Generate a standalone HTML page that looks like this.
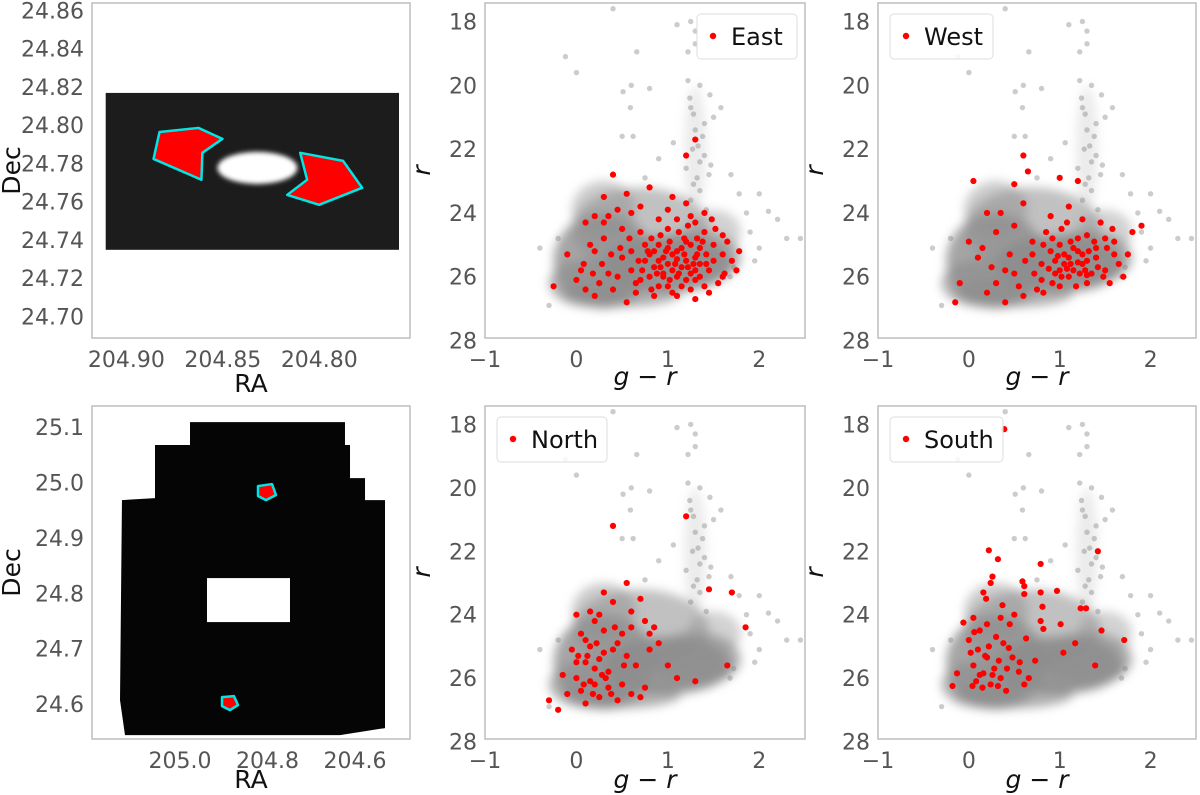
<!DOCTYPE html>
<html><head><meta charset="utf-8"><style>
body{margin:0;background:#fff;width:1200px;height:795px;overflow:hidden}
svg{display:block;font-family:"DejaVu Sans","Liberation Sans",sans-serif}
</style></head><body>
<svg id="fig" width="1200" height="795" viewBox="0 0 1200 795" xmlns="http://www.w3.org/2000/svg">
<defs><filter id="blur" x="-50%" y="-50%" width="200%" height="200%"><feGaussianBlur stdDeviation="5"/></filter>
<filter id="blur2" x="-50%" y="-50%" width="200%" height="200%"><feGaussianBlur stdDeviation="2.5"/></filter></defs>
</svg>
<script>
// ---------- data ----------
const tlField = [204.9107, 204.7587, 24.7348, 24.8168];
const tlHole = [204.8321, 24.7776, 0.0207, 0.0084];
const tlPolyEast = [[204.8828,24.7964],[204.8626,24.7985],[204.8502,24.7928],[204.8606,24.7855],[204.8611,24.7714],[204.8859,24.7823]];
const tlPolyWest = [[204.8099,24.7855],[204.7877,24.7813],[204.7778,24.7672],[204.8001,24.7583],[204.8166,24.7635],[204.8063,24.7714]];
const tlXTicks = [204.90, 204.85, 204.80];
const tlYTicks = [24.70,24.72,24.74,24.76,24.78,24.80,24.82,24.84,24.86];

const blFoot = [[204.9771,25.109],[204.6229,25.109],[204.6229,25.0675],[204.6114,25.0675],[204.6114,25.0079],[204.5771,25.0079],[204.5771,24.9682],[204.5314,24.9682],[204.5314,24.5567],[204.6343,24.544],[205.1257,24.544],[205.1371,24.6072],[205.1326,24.9682],[205.0571,24.9718],[205.0571,25.0675],[204.9771,25.0675]];
const blHole = [204.9383, 204.7486, 24.748, 24.8274];
const blPolyN = [[204.8217,24.9935],[204.7897,24.9971],[204.7806,24.9773],[204.8034,24.9682],[204.8217,24.9755]];
const blPolyS = [[204.904,24.6126],[204.8766,24.6144],[204.8674,24.5982],[204.8857,24.5892],[204.904,24.5964]];
const blXTicks = [205.0, 204.8, 204.6];
const blYTicks = [24.6,24.7,24.8,24.9,25.0,25.1];

const cmdXTicks = [-1,0,1,2];
const cmdYTicks = [18,20,22,24,26,28];
const cloudBlobs = [[0.3,25.5,0.55,1.5,0.8],[1.0,25.6,0.7,0.9,0.9],[0.7,24.5,0.75,1.3,0.55],[0.15,26.2,0.45,0.75,0.7],[1.3,22.0,0.12,2.0,0.18],[1.3,25.4,0.5,0.85,0.7],[0.5,26.5,0.65,0.45,0.7],[0.3,23.9,0.35,0.9,0.45],[1.5,24.6,0.3,0.7,0.4]];
const grayPts = [[0.4,17.6],[1.25,18.0],[1.3,18.3],[1.1,18.1],[1.3,18.7],[1.22,18.95],[0.66,18.95],[0.0,19.6],[-0.12,19.1],[1.22,19.85],[0.8,20.1],[0.6,20.0],[0.51,20.2],[0.59,20.7],[1.24,20.4],[1.46,20.3],[1.58,20.7],[1.28,20.9],[1.4,21.2],[1.5,21.0],[0.5,21.6],[0.62,21.6],[1.06,21.8],[1.27,22.0],[1.33,21.9],[1.35,22.4],[1.2,22.6],[1.45,22.8],[1.47,22.5],[1.69,22.8],[1.78,23.4],[2.0,23.4],[2.1,23.95],[1.86,24.0],[2.3,24.8],[-0.4,25.1],[2.0,25.1],[1.72,25.7],[1.68,26.0],[1.9,24.6],[2.2,24.2],[-0.3,26.9],[1.35,23.3],[1.25,23.6],[1.42,23.9],[0.9,22.3],[0.75,22.9],[-0.2,24.8],[2.45,24.8],[1.95,25.5],[1.3,21.4],[1.38,21.6],[1.32,22.9],[1.4,22.2],[1.28,23.1],[1.25,20.7],[1.35,20.0]];

const eastPts = [[0.4,22.8],[1.2,22.2],[1.3,21.7],[0.3,23.5],[0.2,24.1],[0.1,24.3],[-0.1,25.3],[-0.25,26.3],[0.05,25.8],[0.2,25.2],[0.3,24.8],[0.5,24.5],[0.6,25.8],[0.7,26.1],[0.8,25.3],[0.9,25.0],[1.0,25.6],[1.1,25.2],[1.2,24.9],[1.3,25.4],[1.4,24.6],[1.5,25.0],[1.6,25.3],[1.7,25.5],[1.1,26.0],[0.9,26.3],[1.3,26.1],[0.4,26.4],[0.2,26.6],[0.0,26.1],[1.0,24.5],[1.2,23.7],[0.8,23.2],[1.05,23.5],[0.6,24.0],[0.45,23.9],[0.9,24.2],[1.3,24.3],[1.45,25.8],[1.55,26.2],[0.75,25.0],[0.85,25.7],[0.95,25.9],[1.05,25.3],[1.15,25.7],[1.25,25.9],[1.35,25.1],[1.25,26.4],[1.1,26.6],[0.65,26.5],[0.5,25.4],[0.35,25.9],[0.15,25.0],[0.1,26.4],[0.3,24.3],[1.6,24.7],[1.75,25.8],[1.4,24.0],[0.7,24.6],[0.95,25.4],[1.2,25.5],[1.4,26.3],[1.0,26.3],[0.55,26.8],[1.3,26.7],[0.85,25.2],[1.05,25.8],[1.15,25.1],[0.95,26.0],[1.35,25.6],[1.25,25.0],[0.75,25.5],[0.9,25.5],[1.1,25.45],[1.2,26.1],[1.0,25.1],[1.3,25.8],[0.8,26.0],[1.5,25.5],[0.6,25.2],
[0.82,24.8],[0.92,24.7],[1.02,24.9],[1.12,24.6],[1.22,24.4],[1.32,24.8],[1.42,25.3],[1.52,24.5],[1.62,25.9],[0.72,25.8],[0.82,26.4],[0.92,25.7],[1.02,26.1],[1.12,25.9],[1.22,25.7],[1.32,25.3],[1.42,25.6],[1.48,24.2],[0.58,24.8],[0.48,25.1],[0.38,25.3],[0.28,25.6],[0.18,25.9],[0.08,25.6],[0.25,26.2],[0.45,26.0],[0.65,26.2],[0.85,26.6],[1.05,26.5],[1.15,26.3],[1.35,26.0],[1.45,26.5],[1.0,23.9],[1.1,24.2],[1.25,24.1],[0.7,23.8],[0.55,23.4],[0.35,24.1],[1.6,26.0],[1.65,24.9],[1.78,25.2],[0.98,25.2],[1.08,25.6],[1.18,25.3],[1.28,25.6],[0.88,25.9],[0.78,25.2],[0.68,25.5],[1.38,24.9],[1.18,24.8]];
const westPts = [[0.6,22.2],[1.0,22.9],[0.5,23.1],[0.2,24.0],[0.3,24.6],[0.0,24.9],[-0.1,26.2],[-0.15,26.8],[0.1,25.4],[0.2,26.5],[0.4,25.8],[0.5,24.4],[0.6,23.7],[0.7,24.9],[0.8,25.6],[0.9,25.2],[1.0,25.8],[1.1,25.4],[1.2,24.8],[1.3,25.5],[1.4,25.1],[1.5,24.8],[1.6,25.3],[1.7,26.0],[1.8,24.6],[1.9,24.4],[1.2,23.0],[1.1,23.8],[0.9,24.1],[1.0,26.3],[0.6,26.6],[0.4,26.8],[0.8,26.1],[1.3,26.2],[1.5,25.8],[1.25,25.6],[1.15,25.1],[1.05,25.6],[0.95,25.5],[1.35,25.9],[0.85,24.6],[0.75,26.4],[0.35,24.0],[0.15,25.1],[1.45,24.3],[1.55,26.2],[1.0,25.0],[1.2,25.2],[1.1,26.0],[0.7,25.3],[0.5,25.9],[0.3,26.2],[1.3,24.7],[1.6,24.9],[1.4,25.4],[0.05,23.0],[0.65,22.7],[1.05,25.3],[1.15,25.8],[0.95,25.9],[1.25,25.3],
[0.82,25.0],[0.92,24.8],[1.02,24.5],[1.12,24.9],[1.22,25.9],[1.32,25.2],[1.42,25.7],[1.52,25.1],[0.72,25.9],[0.82,26.5],[0.92,26.2],[1.02,26.0],[1.12,25.6],[1.18,26.3],[1.28,25.8],[1.38,24.9],[1.48,26.0],[0.62,25.5],[0.45,25.3],[0.25,25.7],[0.55,26.3],[1.08,24.3],[1.25,24.2],[1.65,25.6],[1.75,25.3],[1.58,24.5],[0.98,25.35],[1.08,25.75],[1.2,25.55],[1.3,25.95],[0.88,25.75]];
const northPts = [[-0.3,26.7],[-0.2,27.0],[-0.1,26.5],[0.0,26.0],[0.1,25.5],[0.2,26.2],[0.3,24.5],[0.4,21.2],[0.0,24.0],[0.05,24.6],[0.15,25.0],[0.25,26.6],[0.35,25.8],[0.45,24.9],[0.5,26.2],[0.55,25.3],[0.6,24.4],[0.65,25.6],[0.7,26.6],[0.75,26.3],[0.8,25.1],[0.85,24.4],[0.9,24.9],[1.0,25.6],[1.2,20.9],[1.45,23.2],[1.7,23.3],[1.85,24.4],[1.65,25.6],[1.1,26.0],[1.3,26.1],[0.1,26.8],[0.2,24.2],[0.3,23.3],[0.4,23.6],[0.55,23.0],[0.6,23.9],[0.7,23.5],[0.75,24.2],[0.8,24.6],[-0.05,25.1],[0.05,26.4],[0.15,26.1],[0.25,25.4],[0.35,26.3],[0.45,26.7],[0.4,25.1],[0.2,25.7],[0.1,24.8],[0.3,25.2],[0.5,24.6],[0.6,26.5],[0.0,25.5],[0.15,23.9],[0.25,24.0],[-0.15,25.9],[0.08,26.2],[0.18,26.5],[0.28,25.9],[0.38,26.5],[0.12,25.3],[0.22,24.9],[0.02,25.3],[0.32,26.0],[0.42,24.4],[0.52,25.6]];
const southPts = [[0.39,18.15],[0.22,21.97],[0.32,22.25],[0.79,22.4],[1.42,22.0],[0.26,22.8],[0.24,23.0],[0.16,23.3],[0.59,22.95],[0.61,23.1],[0.61,23.35],[0.97,23.25],[0.79,23.3],[0.19,23.5],[0.37,23.7],[0.5,24.0],[0.81,23.75],[1.23,23.8],[1.29,23.8],[0.05,24.1],[-0.06,24.25],[1.01,24.3],[1.46,24.5],[1.71,24.8],[1.17,24.9],[1.04,25.2],[1.39,25.6],[-0.18,26.25],[-0.13,25.85],[0.04,26.25],[0.16,25.85],[0.24,26.2],[0.41,26.4],[0.61,26.2],[0.66,26.0],[0.73,25.45],[0.79,24.2],[0.82,24.45],[0.63,24.75],[0.33,25.45],[0.0,24.8],[0.1,25.1],[0.2,25.35],[0.38,24.9],[0.48,25.35],[0.56,25.5],[0.05,25.6],[0.12,25.9],[0.18,25.3],[0.28,25.7],[0.35,26.0],[0.42,25.7],[0.08,26.1],[0.22,25.0],[0.3,24.7],[0.45,24.3],[0.35,24.1],[0.12,24.5],[0.55,25.8],[0.15,26.3],[0.02,25.2],[0.26,25.9],[0.44,25.05],[0.06,24.55],[0.2,24.3],[0.32,26.25]];

// ---------- drawing ----------
const svg = document.getElementById('fig');
const NS = 'http://www.w3.org/2000/svg';
function mk(tag, attrs, parent){ const e=document.createElementNS(NS,tag); for(const k in attrs) e.setAttribute(k,attrs[k]); (parent||svg).appendChild(e); return e; }
function lin(d0,d1,r0,r1){ return v => r0 + (v-d0)/(d1-d0)*(r1-r0); }

function frame(name){
  const g = mk('g',{});
  
  
  return g;
}
function border(g,x0,y0,x1,y1){
  const r = mk('rect',{x:x0,y:y0,width:x1-x0,height:y1-y0,fill:'none',stroke:'#bdbdbd','stroke-width':1.5},g);
  
  
}
function ticks(g,xs,ys,sx,sy,x0,y1,fmtX,fmtY){
  xs.forEach(v=>{ const t=mk('text',{x:sx(v),y:y1+29,'font-size':22,fill:'#555','text-anchor':'middle'},g); t.textContent=fmtX(v);
      });
  ys.forEach(v=>{ const t=mk('text',{x:x0-8,y:sy(v)+8,'font-size':22,fill:'#555','text-anchor':'end'},g); t.textContent=fmtY(v);
      });
}
function label(g,txt,x,y,rot,italic,name){
  const t=mk('text',{x:x,y:y,'font-size':25,fill:'#111','text-anchor':'middle'},g);
  if(rot) t.setAttribute('transform',`rotate(-90 ${x} ${y})`);
  if(italic) t.setAttribute('font-style','italic');
  t.textContent=txt;
  
  
}
function poly(g,pts,sx,sy,name){
  const p=mk('polygon',{points:pts.map(q=>sx(q[0])+','+sy(q[1])).join(' '),fill:'#ff0000',stroke:'#00e5e5','stroke-width':2.5,'stroke-linejoin':'round'},g);
  
  
}

// Top-left spatial panel
(function(){
  const x0=92,x1=410,y0=3,y1=338;
  const sx=lin(204.9178,204.7530,x0,x1), sy=lin(24.8638,24.6887,y0,y1);
  const g=frame('ra-dec-zoom-panel');
  const f=mk('rect',{x:sx(tlField[0]),y:sy(tlField[3]),width:sx(tlField[1])-sx(tlField[0]),height:sy(tlField[2])-sy(tlField[3]),fill:'#1c1c1c'},g);
   
  const h=mk('ellipse',{cx:sx(tlHole[0]),cy:sy(tlHole[1]),rx:Math.abs(sx(tlHole[0]+tlHole[2])-sx(tlHole[0])),ry:Math.abs(sy(tlHole[1]+tlHole[3])-sy(tlHole[1])),fill:'#fff',filter:'url(#blur2)'},g);
   
  poly(g,tlPolyEast,sx,sy,'east-region');
  poly(g,tlPolyWest,sx,sy,'west-region');
  border(g,x0,y0,x1,y1);
  ticks(g,tlXTicks,tlYTicks,sx,sy,x0,y1,v=>v.toFixed(2),v=>v.toFixed(2));
  label(g,'RA',(x0+x1)/2,392,false,false,'x-axis-title');
  label(g,'Dec',20,(y0+y1)/2,true,false,'y-axis-title');
})();

// Bottom-left spatial panel
(function(){
  const x0=92,x1=410,y0=406,y1=739;
  const sx=lin(205.2011,204.4743,x0,x1), sy=lin(25.138,24.537,y0,y1);
  const g=frame('ra-dec-wide-panel');
  const f=mk('polygon',{points:blFoot.map(q=>sx(q[0])+','+sy(q[1])).join(' '),fill:'#050505'},g);
   
  const h=mk('rect',{x:sx(blHole[0]),y:sy(blHole[3]),width:sx(blHole[1])-sx(blHole[0]),height:sy(blHole[2])-sy(blHole[3]),fill:'#fff'},g);
   
  poly(g,blPolyN,sx,sy,'north-region');
  poly(g,blPolyS,sx,sy,'south-region');
  border(g,x0,y0,x1,y1);
  ticks(g,blXTicks,blYTicks,sx,sy,x0,y1,v=>v.toFixed(1),v=>v.toFixed(1));
  label(g,'RA',(x0+x1)/2,788,false,false,'x-axis-title');
  label(g,'Dec',20,(y0+y1)/2,true,false,'y-axis-title');
})();

function cmd(name,x0,y0,x1,y1,redPts,legText,legX,legW){
  const sx=lin(-1,2.5,x0,x1), sy=lin(17.42,27.92,y0,y1);
  const g=frame(name);
  const cg=mk('g',{filter:'url(#blur)'},g);
   
  cloudBlobs.forEach(b=>{
    const e=mk('ellipse',{cx:sx(b[0]),cy:sy(b[1]),rx:sx(b[0]+b[2])-sx(b[0]),ry:sy(b[1]+b[3])-sy(b[1]),fill:'#8e8e8e','fill-opacity':b[4]},cg);
     
  });
  grayPts.forEach(p=>{
    const c=mk('circle',{cx:sx(p[0]),cy:sy(p[1]),r:2.7,fill:'#808080','fill-opacity':0.4},g);
     
  });
  redPts.forEach(p=>{
    const c=mk('circle',{cx:sx(p[0]),cy:sy(p[1]),r:3.1,fill:'#ff0000'},g);
     
  });
  border(g,x0,y0,x1,y1);
  ticks(g,cmdXTicks,cmdYTicks,sx,sy,x0,y1,v=>v<0?'\u2212'+Math.abs(v):String(v),v=>String(v));
  label(g,'g \u2212 r',(x0+x1)/2,(y0<100?385:788),false,true,'x-axis-title');
  label(g,'r',x0-55,(y0+y1)/2,true,true,'y-axis-title');
  const lg=mk('g',{},g);
   
  mk('rect',{x:legX,y:y0+11,width:legW,height:45,rx:4,fill:'#fff','fill-opacity':0.85,stroke:'#ddd'},lg);
  const m=mk('circle',{cx:legX+16,cy:y0+33,r:3.2,fill:'#ff0000'},lg);
   
  const t=mk('text',{x:legX+34,y:y0+42,'font-size':24,fill:'#111'},lg);
  t.textContent=legText;
   
}
cmd('cmd-east-panel',485,3,805,338,eastPts,'East',697,100);
cmd('cmd-west-panel',878,3,1196,338,westPts,'West',890,103);
cmd('cmd-north-panel',485,406,805,739,northPts,'North',497,110);
cmd('cmd-south-panel',878,406,1196,739,southPts,'South',890,113);
</script>
</body></html>
